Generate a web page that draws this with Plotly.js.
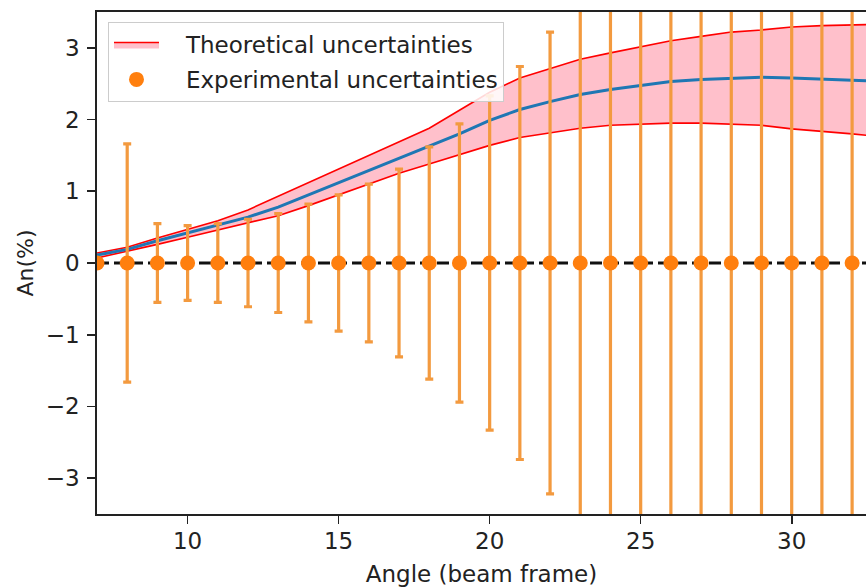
<!DOCTYPE html>
<html>
<head>
<meta charset="utf-8">
<script src="https://cdn.plot.ly/plotly-3.0.1.min.js"></script>
<style>html,body{margin:0;padding:0;background:#fff;}#chart{width:866px;height:587px;}</style>
</head>
<body>
<div id="chart"></div>
<script>
// Theory band (angle in beam frame, An in %)
var theoryAngles = [7, 8, 9, 10, 11, 12, 13, 14, 15, 16, 17, 18, 19, 20, 21, 22, 23, 24, 25, 26, 27, 28, 29, 30, 31, 32, 33];
var theoryCentral = [0.11, 0.19, 0.31, 0.42, 0.52, 0.64, 0.78, 0.95, 1.11, 1.28, 1.45, 1.62, 1.80, 1.99, 2.14, 2.25, 2.35, 2.42, 2.48, 2.53, 2.56, 2.58, 2.59, 2.58, 2.57, 2.55, 2.53];
var theoryUpper = [0.14, 0.22, 0.35, 0.47, 0.59, 0.74, 0.93, 1.12, 1.31, 1.49, 1.68, 1.88, 2.13, 2.38, 2.58, 2.71, 2.84, 2.93, 3.02, 3.10, 3.16, 3.22, 3.25, 3.29, 3.31, 3.32, 3.33];
var theoryLower = [0.07, 0.16, 0.26, 0.36, 0.46, 0.55, 0.66, 0.80, 0.95, 1.10, 1.25, 1.38, 1.51, 1.64, 1.75, 1.82, 1.88, 1.92, 1.94, 1.95, 1.95, 1.94, 1.92, 1.87, 1.84, 1.80, 1.76];

// Experimental points
var expAngles = [7, 8, 9, 10, 11, 12, 13, 14, 15, 16, 17, 18, 19, 20, 21, 22, 23, 24, 25, 26, 27, 28, 29, 30, 31, 32];
var expValues = [0, 0, 0, 0, 0, 0, 0, 0, 0, 0, 0, 0, 0, 0, 0, 0, 0, 0, 0, 0, 0, 0, 0, 0, 0, 0];
var expErrors = [0.05, 1.66, 0.55, 0.52, 0.55, 0.61, 0.69, 0.82, 0.95, 1.10, 1.31, 1.62, 1.94, 2.33, 2.74, 3.22, 3.78, 4.4, 5.2, 6.0, 7.0, 8.2, 9.6, 11.2, 13.1, 15.4];

// Reference line
var refLineX = [7, 33];
var refLineY = [0, 0];

var xTicks = [10, 15, 20, 25, 30];
var yTicks = [-3, -2, -1, 0, 1, 2, 3];

var FONT = 'DejaVu Sans, sans-serif';
var ORANGE = '#ff7f0e';
var FS = 23;
var PAD = '\u00a0\u00a0\u00a0';

var traces = [
  {x: theoryAngles, y: theoryLower, mode: 'lines', line: {color: 'red', width: 1.6},
   showlegend: false, hoverinfo: 'skip', legendgroup: 'a'},
  {x: theoryAngles, y: theoryUpper, mode: 'lines', line: {color: 'red', width: 1.6},
   fill: 'tonexty', fillcolor: 'pink', name: PAD + 'Theoretical uncertainties', legendgroup: 'a'},
  {x: theoryAngles, y: theoryCentral, mode: 'lines', line: {color: '#1f77b4', width: 3},
   showlegend: false, legendgroup: 'a'},
  {x: refLineX, y: refLineY, mode: 'lines', line: {color: '#111', width: 3.2, dash: '12px,5px'},
   showlegend: false, legendgroup: 'c'},
  {x: expAngles, y: expValues, mode: 'markers', name: PAD + 'Experimental uncertainties', legendgroup: 'b',
   marker: {color: ORANGE, size: 15},
   error_y: {type: 'data', array: expErrors, visible: true, color: '#f39a3f', thickness: 3.2, width: 4}}
];

var layout = {
  width: 866, height: 587,
  margin: {l: 97, r: 0, t: 12, b: 73},
  paper_bgcolor: '#fff', plot_bgcolor: '#fff',
  font: {family: FONT, size: FS, color: '#222'},
  showlegend: true,
  legend: {
    x: 0.0143, y: 0.98, xanchor: 'left', yanchor: 'top',
    bgcolor: 'rgba(255,255,255,0.85)', bordercolor: '#cccccc', borderwidth: 1,
    font: {family: FONT, size: FS, color: '#222'},
    itemwidth: 45, traceorder: 'grouped', tracegroupgap: 2
  },
  xaxis: {
    range: [7, 32.46], tickvals: xTicks, ticks: 'outside', ticklen: 8, tickwidth: 1.6,
    tickcolor: '#222', showline: true, linecolor: '#222', linewidth: 1.8, mirror: true,
    showgrid: false, zeroline: false, ticklabelstandoff: -2,
    tickfont: {family: FONT, size: FS, color: '#222'},
    title: {text: 'Angle (beam frame)', font: {family: FONT, size: FS, color: '#222'}, standoff: 12}
  },
  yaxis: {
    range: [-3.5, 3.5], tickvals: yTicks, ticks: 'outside', ticklen: 8, tickwidth: 1.6,
    tickcolor: '#222', showline: true, linecolor: '#222', linewidth: 1.8, mirror: false,
    showgrid: false, zeroline: false, ticklabelstandoff: 3,
    tickfont: {family: FONT, size: FS, color: '#222'},
    title: {text: 'An(%)', font: {family: FONT, size: FS - 1, color: '#222'}, standoff: 6}
  }
};

Plotly.newPlot('chart', traces, layout, {displayModeBar: false, staticPlot: true});
</script>
</body>
</html>
